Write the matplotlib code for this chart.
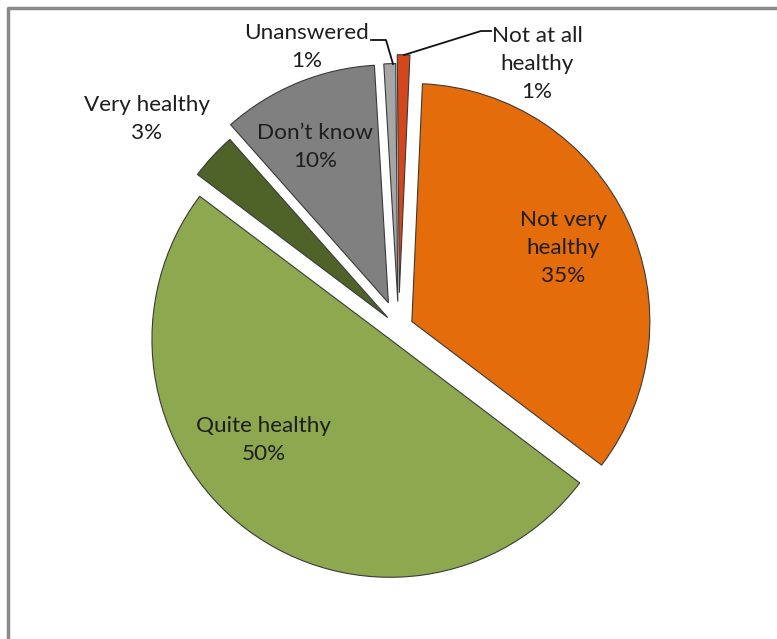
import matplotlib
matplotlib.use("Agg")
import matplotlib.pyplot as plt

# data (clockwise from 12 o'clock)
categories = ["Not at all\nhealthy", "Not very\nhealthy", "Quite healthy",
              "Very healthy", "Don\u2019t know", "Unanswered"]
shares = [0.85, 34.6, 49.95, 3.2, 10.6, 0.8]      # slice sizes
pct_labels = [1, 35, 50, 3, 10, 1]                # percentages as printed

colors = ["#D4461C", "#E46C0A", "#8DA84F", "#4F6228", "#808080", "#A6A6A6"]
explode = [0.147, 0.061, 0.061, 0.063, 0.113, 0.11]

W, H = 777, 639
R = 238.0          # pie radius in pixels
cx, cy = 398.7, 327.7   # pie centre in pixels (from top-left)


def px(x, y):
    # pixel position (top-left origin) -> data coords
    return (x - cx) / R, (cy - y) / R


fig = plt.figure(figsize=(W / 100, H / 100), dpi=100)
ax = fig.add_axes([0, 0, 1, 1])

wedges, _ = ax.pie(shares, explode=explode, colors=colors, startangle=90.5,
                   counterclock=False, radius=1.0,
                   wedgeprops=dict(edgecolor="#3a3a3a", linewidth=0.8))

ax.set_aspect("auto")
ax.set_xlim(-cx / R, (W - cx) / R)
ax.set_ylim(-(H - cy) / R, cy / R)
ax.axis("off")

# label positions (pixel centres of the text blocks)
label_pos = [(537, 64), (563, 248), (264, 440), (147, 119), (315, 147), (307, 47)]
font = dict(family=["Lato", "DejaVu Sans"], fontsize=16.2, color="#1e1e1e",
            linespacing=1.5)
for name, p, (lx, ly) in zip(categories, pct_labels, label_pos):
    x, y = px(lx, ly)
    ax.text(x, y, f"{name}\n{p}%", ha="center", va="center", **font)

# leader lines for the two thin slices
lead = [[(371, 40), (386, 40), (393, 64)],
        [(491, 31), (481, 31), (404, 55)]]
for pts in lead:
    xs, ys = zip(*[px(a, b) for a, b in pts])
    ax.plot(xs, ys, color="#111111", linewidth=1.3)

# frame lines of the original chart area
ax.plot(*zip(px(8, 639), px(8, 8), px(777, 8)), color="#8a8a8a", linewidth=2.5,
        clip_on=False)

fig.savefig("out.png", dpi=100)
